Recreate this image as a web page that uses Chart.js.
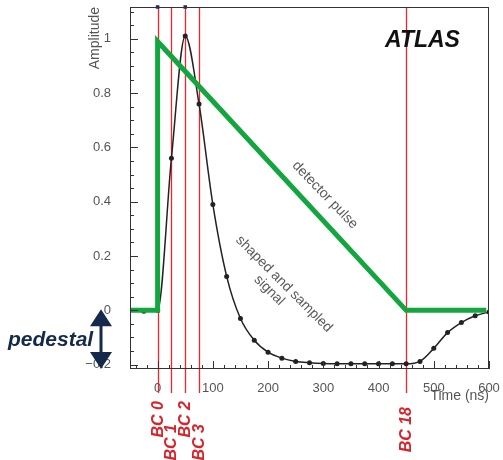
<!DOCTYPE html>
<html>
<head>
<meta charset="utf-8">
<script src="https://cdn.jsdelivr.net/npm/chart.js@4"></script>
<style>
  body { margin: 0; background: #fff; }
</style>
</head>
<body>
<canvas id="chart" width="503" height="460"></canvas>
<script>
// shaped and sampled signal, one sample every 25 ns
const sampleTimes = [-25, 0, 25, 50, 75, 100, 125, 150, 175, 200, 225, 250, 275, 300, 325, 350, 375, 400, 425, 450, 475, 500, 525, 550, 575, 600]
const sampleAmps = [-0.003, 0, 0.56, 1.01, 0.76, 0.39, 0.125, -0.03, -0.11, -0.154, -0.176, -0.188, -0.193, -0.196, -0.197, -0.197, -0.197, -0.197, -0.197, -0.197, -0.188, -0.14, -0.082, -0.045, -0.02, -0.006]

// triangular detector pulse
const pulseTimes = [-50, 0, 0, 450, 595]
const pulseAmps = [0, 0, 0.99, 0, 0]

// bunch crossings
const bcTimes = [0, 25, 50, 75, 450]
const bcNames = ['BC 0', 'BC 1', 'BC 2', 'BC 3', 'BC 18']

// little markers sitting on the top edge
const overflowTimes = [0, 50]

const xTicks = [0, 100, 200, 300, 400, 500, 600]
const yTicks = [-0.2, 0, 0.2, 0.4, 0.6, 0.8, 1]

const X_MIN = -50, X_MAX = 600
const Y_MIN = -0.216, Y_MAX = 1.117

const navy = '#14294b'
const bcRed = '#d8232a'
const labelFont = '"Liberation Sans", Arial, sans-serif'

function pts(xs, ys) {
  return xs.map((t, i) => ({ x: t, y: ys[i] }))
}

function rotText(ctx, text, px, py, angle, align, dy) {
  ctx.save()
  ctx.translate(px, py)
  ctx.rotate(angle)
  ctx.textAlign = align
  ctx.textBaseline = 'middle'
  ctx.fillText(text, dy ? dy[0] : 0, dy ? dy[1] : 0)
  ctx.restore()
}

function noPad(s) {
  s.paddingTop = 0
  s.paddingBottom = 0
  s.paddingLeft = 0
  s.paddingRight = 0
}

const decor = {
  id: 'decor',
  beforeDatasetsDraw(chart) {
    const { ctx, chartArea: a, scales: { x } } = chart
    ctx.save()
    ctx.strokeStyle = '#f0242c'
    ctx.lineWidth = 1.3
    bcTimes.forEach(t => {
      const px = Math.round(x.getPixelForValue(t)) + 0.5
      ctx.beginPath()
      ctx.moveTo(px, a.top)
      ctx.lineTo(px, 393)
      ctx.stroke()
    })
    ctx.restore()
  },
  afterDraw(chart) {
    const { ctx, chartArea: a, scales: { x, y } } = chart
    ctx.save()

    // frame
    ctx.strokeStyle = '#333'
    ctx.lineWidth = 1
    ctx.strokeRect(a.left + 0.5, a.top + 0.5, a.right - a.left - 1, a.bottom - a.top - 1)

    // inward ticks, ROOT style
    ctx.beginPath()
    for (let v = -40; v <= 600; v += 20) {
      const px = Math.round(x.getPixelForValue(v)) + 0.5
      const len = v % 100 === 0 ? 8 : 4
      ctx.moveTo(px, a.bottom)
      ctx.lineTo(px, a.bottom - len)
    }
    for (let k = -4; k <= 22; k++) {
      const py = Math.round(y.getPixelForValue(k * 0.05)) + 0.5
      const len = k % 4 === 0 ? 8 : 4
      ctx.moveTo(a.left, py)
      ctx.lineTo(a.left + len, py)
    }
    ctx.stroke()

    // axis titles
    ctx.fillStyle = '#555'
    ctx.font = '14px ' + labelFont
    rotText(ctx, 'Amplitude', 95, 7, -Math.PI / 2, 'right')
    ctx.textAlign = 'right'
    ctx.textBaseline = 'middle'
    ctx.fillText('Time (ns)', a.right, 396)

    // ATLAS
    ctx.fillStyle = '#111'
    ctx.font = 'bold italic 23px ' + labelFont
    ctx.textAlign = 'left'
    ctx.textBaseline = 'alphabetic'
    ctx.fillText('ATLAS', 385, 47)

    // curve annotations
    ctx.fillStyle = '#5a5a5a'
    ctx.font = '14px ' + labelFont
    rotText(ctx, 'detector pulse', 325, 195, 46 * Math.PI / 180, 'center')
    rotText(ctx, 'shaped and sampled', 284, 284, 45 * Math.PI / 180, 'center')
    rotText(ctx, 'signal', 284, 284, 45 * Math.PI / 180, 'center', [-6, 15])

    // BC labels below the axis
    ctx.fillStyle = bcRed
    ctx.font = 'bold italic 16px ' + labelFont
    bcTimes.forEach((t, i) => {
      const px = x.getPixelForValue(t) + 0.5
      const top = t > 100 ? 407 : (i % 2 ? 424 : 401)
      rotText(ctx, bcNames[i], px, top, -Math.PI / 2, 'right')
    })

    // pedestal arrow and label
    ctx.fillStyle = navy
    const ax = 101
    const y0 = y.getPixelForValue(0) - 1
    const y1 = a.bottom
    ctx.beginPath()
    ctx.moveTo(ax, y0)
    ctx.lineTo(ax - 11, y0 + 17)
    ctx.lineTo(ax + 11, y0 + 17)
    ctx.closePath()
    ctx.moveTo(ax, y1)
    ctx.lineTo(ax - 11, y1 - 17)
    ctx.lineTo(ax + 11, y1 - 17)
    ctx.closePath()
    ctx.fill()
    ctx.fillRect(ax - 1.5, y0 + 16, 3, y1 - y0 - 32)
    ctx.font = 'bold italic 21px ' + labelFont
    ctx.textAlign = 'left'
    ctx.textBaseline = 'alphabetic'
    ctx.fillText('pedestal', 8, 346)

    ctx.restore()
  }
}

new Chart(document.getElementById('chart'), {
  type: 'line',
  data: {
    datasets: [
      {
        label: 'detector pulse',
        data: pts(pulseTimes, pulseAmps),
        borderColor: '#14a63e',
        borderWidth: 5,
        pointRadius: 0,
        tension: 0,
        borderJoinStyle: 'miter'
      },
      {
        label: 'overflow',
        data: overflowTimes.map(t => ({ x: t, y: Y_MAX })),
        showLine: false,
        pointStyle: 'rect',
        pointRadius: 2.5,
        pointBorderWidth: 0,
        backgroundColor: '#1b3060',
        clip: false
      },
      {
        label: 'shaped and sampled signal',
        data: pts(sampleTimes, sampleAmps),
        borderColor: '#222',
        borderWidth: 1.5,
        pointRadius: 2.5,
        pointBorderWidth: 0,
        pointBackgroundColor: '#222',
        cubicInterpolationMode: 'monotone'
      }
    ]
  },
  options: {
    responsive: false,
    animation: false,
    devicePixelRatio: 1,
    layout: { padding: { top: 7, right: 14, left: 0, bottom: 0 } },
    plugins: { legend: { display: false }, tooltip: { enabled: false } },
    scales: {
      x: {
        type: 'linear',
        min: X_MIN,
        max: X_MAX,
        afterBuildTicks: s => { s.ticks = xTicks.map(v => ({ value: v })) },
        afterFit: s => { s.height = 91; noPad(s) },
        grid: { display: false },
        border: { display: false },
        ticks: { padding: 4, color: '#555', font: { family: labelFont, size: 13 }, maxRotation: 0, autoSkip: false }
      },
      y: {
        type: 'linear',
        min: Y_MIN,
        max: Y_MAX,
        afterBuildTicks: s => { s.ticks = yTicks.map(v => ({ value: v })) },
        afterFit: s => { s.width = 130; noPad(s) },
        grid: { display: false },
        border: { display: false },
        ticks: {
          padding: 11,
          color: '#555',
          font: { family: labelFont, size: 13 },
          autoSkip: false,
          callback: v => String(Math.round(v * 10) / 10).replace('-', '\u2212')
        }
      }
    }
  },
  plugins: [decor]
})
</script>
</body>
</html>
